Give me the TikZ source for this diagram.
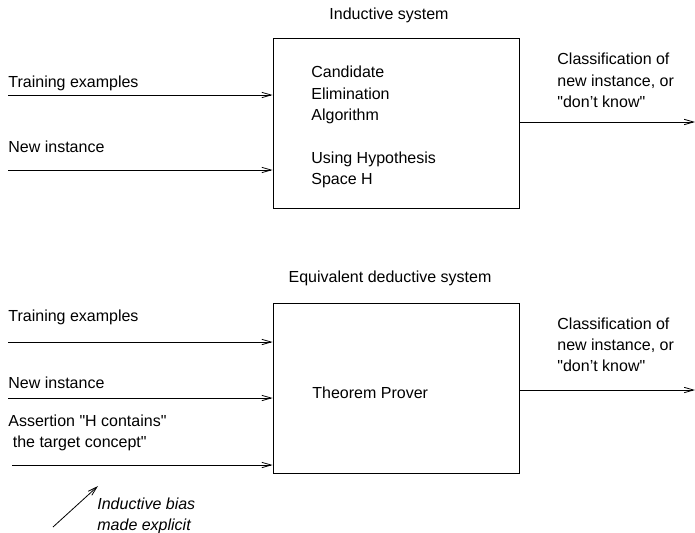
\documentclass[tikz,border=0pt]{standalone}
\usepackage{fontspec}
\setmainfont{Liberation Sans}[Ligatures=TeXOff]
\usetikzlibrary{arrows.meta}

\begin{document}
\begin{tikzpicture}[x=0.75pt, y=-0.75pt, line width=0.6pt,
    font=\fontsize{12}{16}\selectfont,
    >={Straight Barb[length=7pt,width=4pt]},
    sysbox/.style={draw, minimum width=184.5pt, minimum height=127.5pt},
    lbl/.style={anchor=west, inner sep=0pt, align=left}]
  \useasboundingbox (0,0) rectangle (695,532);

  % Inductive system
  \node[inner sep=0pt] (title1) at (389,15) {Inductive system};
  \node[sysbox] (box1) at (396,123) {};
  \node[lbl, anchor=north west] (algo) at (311,66)
    {Candidate\\Elimination\\Algorithm\\[16pt]Using Hypothesis\\Space H};

  \coordinate (train1) at (8,95);
  \coordinate (new1) at (8,170);
  \coordinate (out1) at (695,122);
  \node[lbl] (train1lbl) at (8,83) {Training examples};
  \node[lbl] (new1lbl) at (8,147) {New instance};
  \node[lbl, anchor=north west] (class1) at (557,53)
    {Classification of\\new instance, or\\"don’t know"};

  \draw[->] (train1) -- (train1 -| box1.west);
  \draw[->] (new1) -- (new1 -| box1.west);
  \draw[->] (out1 -| box1.east) -- (out1);

  % Equivalent deductive system
  \node[inner sep=0pt] (title2) at (390,278) {Equivalent deductive system};
  \node[sysbox] (box2) at (396,388) {};
  \node[lbl] (prover) at (312,393) {Theorem Prover};

  \coordinate (train2) at (8,342);
  \coordinate (new2) at (8,398);
  \coordinate (assert2) at (12,465);
  \coordinate (out2) at (695,390);
  \node[lbl] (train2lbl) at (8,317) {Training examples};
  \node[lbl] (new2lbl) at (8,383) {New instance};
  \node[lbl, anchor=north west] (assert2lbl) at (8,414)
    {Assertion "H contains"\\ \ the target concept"};
  \node[lbl, anchor=north west] (class2) at (557,317)
    {Classification of\\new instance, or\\"don’t know"};

  \draw[->] (train2) -- (train2 -| box2.west);
  \draw[->] (new2) -- (new2 -| box2.west);
  \draw[->] (assert2) -- (assert2 -| box2.west);
  \draw[->] (out2 -| box2.east) -- (out2);

  % Inductive bias note
  \coordinate (biasfoot) at (53,527);
  \coordinate (biastip) at (98,486);
  \node[lbl, anchor=north west, font=\fontsize{12}{16}\selectfont\itshape] (bias) at (97,497)
    {Inductive bias\\made explicit};
  \draw[->] (biasfoot) -- (biastip);
\end{tikzpicture}
\end{document}
